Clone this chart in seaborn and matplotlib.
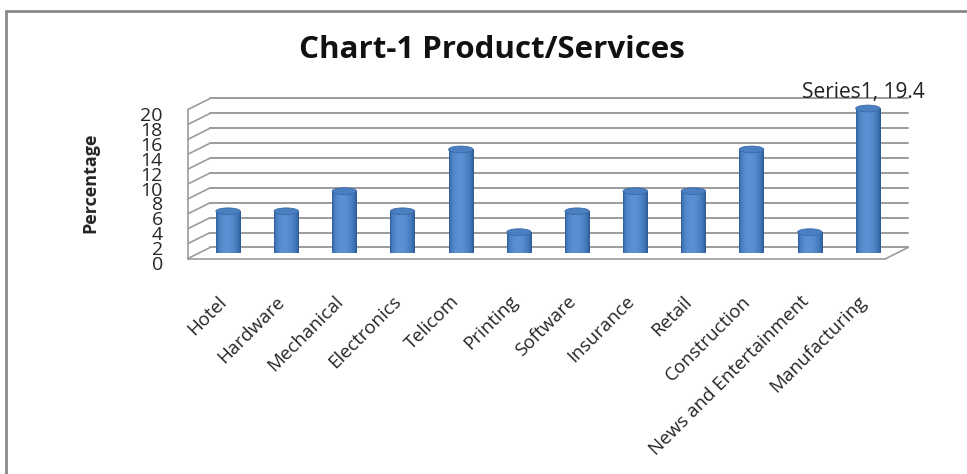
import matplotlib
matplotlib.use("Agg")
import matplotlib.pyplot as plt
import matplotlib.transforms as mtransforms
from matplotlib.patches import Ellipse, Rectangle
from matplotlib.lines import Line2D
import numpy as np
import pandas as pd
import seaborn as sns

# Datos (porcentaje por sector)
SECTORES = ['Hotel', 'Hardware', 'Mechanical', 'Electronics', 'Telicom', 'Printing',
            'Software', 'Insurance', 'Retail', 'Construction',
            'News and Entertainment', 'Manufacturing']
PORCENTAJES = [5.6, 5.6, 8.3, 5.6, 13.9, 2.8, 5.6, 8.3, 8.3, 13.9, 2.8, 19.4]
Y_TICKS = [0, 2, 4, 6, 8, 10, 12, 14, 16, 18, 20]

df = pd.DataFrame({'Sector': SECTORES, 'Percentage': PORCENTAJES})

sns.set_style("white")
plt.rcParams['font.family'] = ['Open Sans', 'DejaVu Sans']

AZUL = '#4A7EBF'
GRIS = '#9C9C9C'

fig = plt.figure(figsize=(9.67, 4.74), dpi=100)
fig.patch.set_facecolor("white")
W, H = 967, 474
ax = fig.add_axes([199 / W, 1 - 253 / H, (897 - 199) / W, (253 - 104) / H])
ax.set_facecolor("none")

sns.barplot(data=df, x='Sector', y='Percentage', color=AZUL, width=0.42,
            saturation=1, edgecolor='none', ax=ax, zorder=3)
ax.set_xlim(-0.5, 11.5)
ax.set_ylim(0, 20)

# ── pseudo 3D: paredes y rejilla ─────────────────────────────────────────
dx, dy = 0.19, 0.74
x0, x1 = -0.5, 11.5
for v in Y_TICKS:
    # pared trasera
    ax.add_line(Line2D([x0 + dx, x1 + dx], [v + dy, v + dy], color=GRIS, lw=1.4,
                       zorder=1, clip_on=False))
    # pared lateral
    ax.add_line(Line2D([x0 - dx, x0 + dx], [v - dy, v + dy], color=GRIS, lw=1.2,
                       zorder=1, clip_on=False))
ax.add_line(Line2D([x0 - dx, x0 - dx], [-dy, 20 - dy], color=GRIS, lw=1.2, clip_on=False))
ax.add_line(Line2D([x0 - dx, x1 - dx], [-dy, -dy], color=GRIS, lw=1.2, clip_on=False))
ax.add_line(Line2D([x1 - dx, x1 + dx], [-dy, dy], color=GRIS, lw=1.2, clip_on=False))

# ── cilindros: degradado suave + tapas elípticas ─────────────────────────
t = np.linspace(0, 1, 64)
grad = (np.sin(np.pi * t ** 0.8) ** 0.7)[None, :]
cmap = matplotlib.colors.LinearSegmentedColormap.from_list(
    'cil', ['#2B5890', '#4378BA', '#5C90D2'])
for p in ax.patches[:len(SECTORES)]:
    bx, bw, bh = p.get_x(), p.get_width(), p.get_height()
    cx = bx + bw / 2
    im = ax.imshow(grad, cmap=cmap, aspect='auto', extent=(bx, bx + bw, -0.45, bh),
                   zorder=3.1, vmin=0, vmax=1, interpolation='bilinear')
    im.set_clip_path(Rectangle((bx, 0), bw, bh, transform=ax.transData))
    im2 = ax.imshow(grad, cmap=cmap, aspect='auto', extent=(bx, bx + bw, -0.45, 0),
                    zorder=3.1, vmin=0, vmax=1, interpolation='bilinear')
    im2.set_clip_path(Ellipse((cx, 0), bw, 0.9, transform=ax.transData))
    tapa = Ellipse((cx, bh), bw, 0.9, facecolor='#4A7FC2', edgecolor='#3A69A6',
                   lw=0.6, zorder=3.3)
    ax.add_patch(tapa)
ax.set_xlim(-0.5, 11.5)
ax.set_ylim(0, 20)

# etiqueta de dato
izq = mtransforms.offset_copy(ax.transData, fig=fig, x=-5, y=0, units='dots')
ax.text(11, PORCENTAJES[-1] + 2.2, f'Series1, {PORCENTAJES[-1]}', ha='center',
        va='center', fontsize=15, color='#222222', clip_on=False, transform=izq)

# ── ejes ─────────────────────────────────────────────────────────────────
ax.set_yticks(Y_TICKS)
ax.set_yticklabels([str(v) for v in Y_TICKS], fontsize=14)
ax.tick_params(axis='y', length=0, pad=26)
off = mtransforms.ScaledTranslation(0, -10 / 100, fig.dpi_scale_trans)
for lab in ax.get_yticklabels():
    lab.set_transform(lab.get_transform() + off)

ax.set_xticks(range(len(SECTORES)))
ax.set_xticklabels(SECTORES, rotation=45, ha='right', va='center',
                   rotation_mode='anchor', fontsize=13.5)
ax.tick_params(axis='x', length=0, pad=33)
offx = mtransforms.ScaledTranslation(-4 / 100, 0, fig.dpi_scale_trans)
for lab in ax.get_xticklabels():
    lab.set_transform(lab.get_transform() + offx)

ax.set_xlabel('')
ax.set_ylabel('Percentage', fontsize=13, fontweight='bold')
ax.yaxis.set_label_coords(-0.143, 0.47)
for s in ax.spines.values():
    s.set_visible(False)

fig.text(492 / W, 1 - 50 / H, 'Chart-1 Product/Services', ha='center', va='center',
         fontsize=22.5, fontweight='bold', color='#111111')

# marco exterior (solo borde superior e izquierdo visibles)
fig.add_artist(Line2D([6 / W, 6 / W], [0, 1 - 11 / H], color='#8A8A8A', lw=2,
                      transform=fig.transFigure))
fig.add_artist(Line2D([6 / W, 1], [1 - 11 / H, 1 - 11 / H], color='#8A8A8A', lw=2,
                      transform=fig.transFigure))

fig.savefig("out.png", dpi=100)
